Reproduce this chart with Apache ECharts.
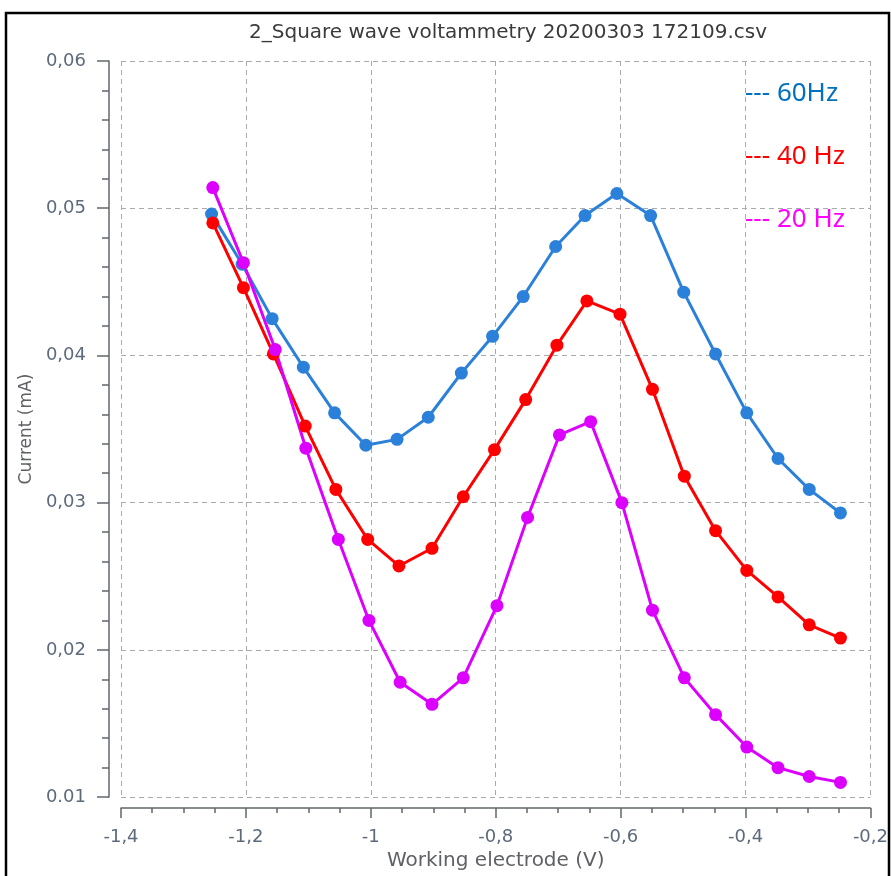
<!DOCTYPE html>
<html>
<head>
<meta charset="utf-8">
<script src="https://cdn.jsdelivr.net/npm/echarts@6/dist/echarts.min.js"></script>
<style>
  html, body { margin: 0; padding: 0; background: #fff; }
  #chart { width: 891px; height: 876px; }
</style>
</head>
<body>
<div id="chart"></div>
<script>
const seriesNames = ["60Hz", "40 Hz", "20 Hz"];
const seriesColors = ["#2b80d9", "#ff0000", "#dc00ff"];
const legendColors = ["#0070c0", "#ff0000", "#ff00ff"];

const x60 = [-1.255, -1.206, -1.158, -1.108, -1.058, -1.008, -0.958, -0.908, -0.855, -0.805, -0.756,
  -0.704, -0.657, -0.606, -0.552, -0.499, -0.448, -0.398, -0.348, -0.298, -0.248];
const y60 = [0.0496, 0.0462, 0.0425, 0.0392, 0.0361, 0.0339, 0.0343, 0.0358, 0.0388, 0.0413, 0.0440,
  0.0474, 0.0495, 0.0510, 0.0495, 0.0443, 0.0401, 0.0361, 0.0330, 0.0309, 0.0293];

const x40 = [-1.253, -1.204, -1.156, -1.105, -1.056, -1.005, -0.955, -0.902, -0.852, -0.802, -0.752,
  -0.702, -0.654, -0.601, -0.549, -0.498, -0.448, -0.398, -0.348, -0.298, -0.248];
const y40 = [0.0490, 0.0446, 0.0401, 0.0352, 0.0309, 0.0275, 0.0257, 0.0269, 0.0304, 0.0336, 0.0370,
  0.0407, 0.0437, 0.0428, 0.0377, 0.0318, 0.0281, 0.0254, 0.0236, 0.0217, 0.0208];

const x20 = [-1.253, -1.204, -1.153, -1.104, -1.052, -1.003, -0.953, -0.902, -0.852, -0.798, -0.749,
  -0.698, -0.648, -0.598, -0.549, -0.498, -0.448, -0.398, -0.348, -0.298, -0.248];
const y20 = [0.0514, 0.0463, 0.0404, 0.0337, 0.0275, 0.0220, 0.0178, 0.0163, 0.0181, 0.0230, 0.0290,
  0.0346, 0.0355, 0.0300, 0.0227, 0.0181, 0.0156, 0.0134, 0.0120, 0.0114, 0.0110];

const xTickLabels = ["-1,4", "-1,2", "-1", "-0,8", "-0,6", "-0,4", "-0,2"];
const yTickLabels = ["0.01", "0,02", "0,03", "0,04", "0,05", "0,06"];

const xs = [x60, x40, x20];
const ys = [y60, y40, y20];

const FONT = "DejaVu Sans";
const axisGrey = "#62666b";
const labelColor = "#5d6a7c";
const gridLine = { show: true, lineStyle: { color: "#a8abae", type: [5, 4], width: 1 } };

const chart = echarts.init(document.getElementById("chart"));
chart.setOption({
  animation: false,
  textStyle: { fontFamily: FONT },
  title: {
    text: "2_Square wave voltammetry 20200303 172109.csv",
    left: 503,
    top: 18,
    textAlign: "center",
    textStyle: { fontSize: 20, fontWeight: "normal", color: "#3a3a3a", fontFamily: FONT },
  },
  legend: {
    data: seriesNames.map((n, i) => ({ name: n, icon: "none", textStyle: { color: legendColors[i] } })),
    formatter: "--- {name}",
    orient: "vertical",
    left: 740,
    top: 81,
    padding: 0,
    itemWidth: 0,
    itemGap: 37,
    textStyle: { fontSize: 26, fontFamily: "Noto Sans" },
    selectedMode: false,
  },
  grid: { left: 121, right: 19, top: 61, bottom: 77 },
  xAxis: {
    type: "value",
    min: -1.4,
    max: -0.2,
    interval: 0.2,
    offset: 11,
    name: "Working electrode (V)",
    nameLocation: "middle",
    nameGap: 41,
    nameTextStyle: { fontSize: 20, color: "#5f6166", fontFamily: FONT },
    axisLine: { lineStyle: { color: axisGrey, width: 1.5 } },
    axisTick: { length: 10, lineStyle: { color: axisGrey, width: 1.5 } },
    minorTick: { show: true, splitNumber: 4, length: 5, lineStyle: { color: axisGrey, width: 1.5 } },
    axisLabel: {
      margin: 20,
      fontSize: 18,
      color: labelColor,
      formatter: (v, i) => xTickLabels[i],
    },
    splitLine: gridLine,
  },
  yAxis: {
    type: "value",
    min: 0.01,
    max: 0.06,
    interval: 0.01,
    offset: 12,
    name: "Current (mA)",
    nameLocation: "middle",
    nameGap: 73,
    nameTextStyle: { fontSize: 17, color: "#5f6166", fontFamily: FONT },
    axisLine: { show: true, lineStyle: { color: axisGrey, width: 1.5 } },
    axisTick: { show: true, length: 12, lineStyle: { color: axisGrey, width: 1.5 } },
    minorTick: { show: true, splitNumber: 5, length: 7, lineStyle: { color: axisGrey, width: 1.5 } },
    axisLabel: {
      margin: 23,
      fontSize: 18,
      color: labelColor,
      formatter: (v, i) => yTickLabels[i],
    },
    splitLine: gridLine,
  },
  graphic: [{
    type: "rect",
    shape: { x: 6, y: 13, width: 883, height: 870 },
    style: { fill: "none", stroke: "#000", lineWidth: 2.5 },
    silent: true,
  }],
  series: seriesNames.map((n, i) => ({
    name: n,
    type: "line",
    data: xs[i].map((x, k) => [x, ys[i][k]]),
    symbol: "circle",
    symbolSize: 13,
    color: seriesColors[i],
    lineStyle: { width: 3, color: seriesColors[i] },
    itemStyle: { color: seriesColors[i] },
  })),
});
</script>
</body>
</html>
